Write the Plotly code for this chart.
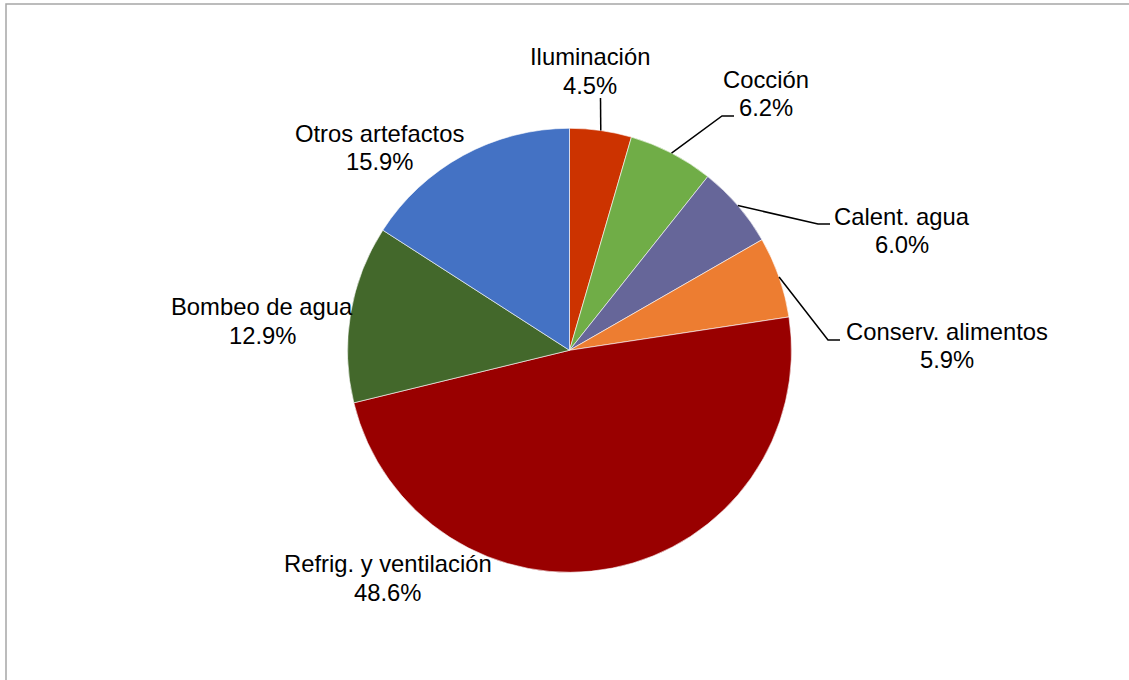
import math
import plotly.graph_objects as go

# ---- data ----
categories = ["Iluminación", "Cocción", "Calent. agua", "Conserv. alimentos",
              "Refrig. y ventilación", "Bombeo de agua", "Otros artefactos"]
shares = [4.5, 6.2, 6.0, 5.9, 48.6, 12.9, 15.9]
percent_labels = ["4.5%", "6.2%", "6.0%", "5.9%", "48.6%", "12.9%", "15.9%"]

# ---- styles / layout ----
colors = ["#CC3300", "#70AD47", "#666699", "#ED7D31", "#990000", "#43682B", "#4472C4"]
W, H = 1129, 680
CX, CY, R = 569.5, 350.3, 222.0          # pie centre / radius in px
FONT = "Liberation Sans, Arial, sans-serif"
FS = 23.8
LINE_GAP = 28.5
# label block centres (px)
label_centers = [(590, 71), (765.5, 93.5), (902, 230.5), (947, 345.5),
                 (387.5, 578), (262, 321), (379.5, 147.5)]
# leader-line elbow and end points (px); None = no leader line
leader_paths = [
    [(600.5, 98)],
    [(722, 116), (734, 116)],
    [(818, 224), (830, 224)],
    [(828, 340), (840, 340)],
    None, None, None,
]

def px(x):
    return x / W

def py(y):
    return 1 - y / H

fig = go.Figure(go.Pie(
    labels=categories,
    values=shares,
    sort=False,
    direction="clockwise",
    rotation=0,
    marker=dict(colors=colors, line=dict(color="white", width=0.6)),
    textinfo="none",
    hoverinfo="label+percent",
    domain=dict(x=[px(CX - R), px(CX + R)], y=[py(CY + R), py(CY - R)]),
    showlegend=False,
))

annotations = []
shapes = []
total = sum(shares)
cum = 0.0
for i, (cat, val, pct) in enumerate(zip(categories, shares, percent_labels)):
    mid = (cum + val / 2) / total * 2 * math.pi
    cum += val
    lx, ly = label_centers[i]
    for text, yy in ((cat, ly - LINE_GAP / 2), (pct, ly + LINE_GAP / 2)):
        annotations.append(dict(
            x=px(lx), y=py(yy), xref="paper", yref="paper",
            text=text, showarrow=False, xanchor="center", yanchor="middle",
            font=dict(family=FONT, size=FS, color="black"),
        ))
    if leader_paths[i]:
        sx = CX + R * math.sin(mid)
        sy = CY - R * math.cos(mid)
        pts = [(sx, sy)] + leader_paths[i]
        path = "M " + " L ".join(f"{px(a)} {py(b)}" for a, b in pts)
        shapes.append(dict(type="path", path=path, xref="paper", yref="paper",
                           line=dict(color="black", width=1.5)))

# outer chart frame (top and left edges visible)
shapes.append(dict(type="rect", xref="paper", yref="paper",
                   x0=px(6), x1=px(W + 20), y0=py(H + 20), y1=py(4),
                   line=dict(color="#A6A6A6", width=1.5)))

fig.update_layout(
    width=W, height=H,
    margin=dict(l=0, r=0, t=0, b=0),
    paper_bgcolor="white",
    plot_bgcolor="white",
    annotations=annotations,
    shapes=shapes,
)

fig.write_html("out.html", config={"displayModeBar": False},
               post_script="document.body.style.margin='0';document.body.style.overflow='hidden';")
